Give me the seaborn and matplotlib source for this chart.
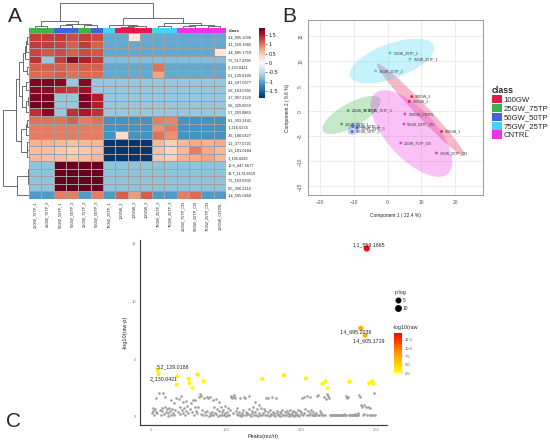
import numpy as np
import pandas as pd
import matplotlib
matplotlib.use("Agg")
import matplotlib.pyplot as plt
import seaborn as sns
from matplotlib.colors import ListedColormap, LinearSegmentedColormap, Normalize
from matplotlib.patches import Patch, Ellipse
from matplotlib.lines import Line2D

# ==========================================
# 1. DATA
# ==========================================
class_names = ["100GW", "25GW_75TP", "50GW_50TP", "75GW_25TP", "CNTRL"]
class_colors = ["#E6194B", "#3CB44B", "#4363D8", "#42D4F4", "#F032E6"]

# --- panel A: heatmap of top features ---
hm_rows = ["1.4_695.2036", "1.1_559.1665", "1.4_605.1719", "7.5_517.2398",
           "2_130.0421", "5.2_129.0188", "4.1_187.0377", "5.6_163.0391",
           "1.7_907.2128", "3.6_329.0659", "5.7_293.0869", "8.1_303.1441",
           "1_216.0274", "3.6_180.0427", "1.1_377.0725", "1.3_181.0184",
           "1_195.0299", "10.6_447.6677", "11.7_1174.8619", "7.5_163.0302",
           "6.5_390.2114", "1.4_565.0458"]
hm_cols = ["25GW_75TP_1", "25GW_75TP_2", "50GW_50TP_1", "50GW_50TP_2",
           "25GW_75TP_3", "50GW_50TP_3", "75GW_25TP_1", "100GW_1", "100GW_2",
           "100GW_3", "75GW_25TP_2", "75GW_25TP_3", "25GW_75TP_CN",
           "50GW_50TP_CN", "75GW_25TP_CN", "100GW_CNTRL"]
hm_col_class = [1, 1, 2, 2, 1, 2, 3, 0, 0, 0, 3, 3, 4, 4, 4, 4]
hm_values = [
    [1.3, 1.3, 1.3, 1.2, 1.3, 1.2, -.95, -.95, 0.2, -.95, -.95, -.95, -.95, -.95, -.95, -.95],
    [1.3, 1.3, 1.25, 1.1, 1.3, 1.1, -.95, -.95, -.95, -.95, -.95, -.95, -.95, -.95, -.95, -.95],
    [1.25, 1.15, 1.2, 1.1, 1.2, 1.15, -.95, -.95, -.95, -.95, -.95, -.95, -.95, -.95, -.95, 0.2],
    [1.35, -.7, 1.3, 1.65, 1.45, 1.3, -.8, -.8, -.8, -.8, -.8, -.8, -.8, -.8, -.8, -.8],
    [1.1, 1.1, 1.1, 1.05, 1.1, 1.1, -.95, -.95, -.95, -.95, 1.0, -.95, -.95, -.95, -.95, -.95],
    [1.05, 1.05, 1.1, 1.0, 1.05, 1.05, -.95, -.95, -.95, -.95, 0.75, -.95, -.95, -.95, -.95, -.95],
    [1.75, 1.75, 1.7, -.7, 1.7, -.7, -.7, -.7, -.7, -.7, -.7, -.7, -.7, -.7, -.7, -.7],
    [1.7, 1.65, 1.35, 1.3, 1.6, -.7, -.7, -.7, -.7, -.7, -.7, -.7, -.7, -.7, -.7, -.7],
    [1.75, 1.75, -.7, -.7, 1.75, 1.45, -.7, -.7, -.7, -.7, -.7, -.7, -.7, -.7, -.7, -.7],
    [1.8, 1.8, -.7, -.7, 1.75, 1.45, -.7, -.7, -.7, -.7, -.7, -.7, -.7, -.7, -.7, -.7],
    [1.35, 1.65, -.7, 1.35, 1.5, 1.35, -.7, -.7, -.7, -.7, -.7, -.7, -.7, -.7, -.7, -.7],
    [1.0, 1.0, 1.0, 1.1, 0.95, 1.0, -1.1, -1.1, -1.1, -1.1, 0.95, 0.9, -1.1, -1.1, -1.1, -1.1],
    [.95, .95, .95, .95, .95, .95, -1.1, -1.1, -1.1, -1.1, 0.85, 0.95, -1.1, -1.1, -1.1, -1.1],
    [.95, .95, .95, .95, .95, .95, -1.1, 0.35, -1.1, -1.1, 1.0, 0.85, -1.1, -1.1, -1.1, -1.1],
    [.65, .65, .6, .55, .6, .6, -1.8, -1.8, -1.8, -1.8, .6, .45, .6, .7, .65, .7],
    [.55, .55, .5, .45, .5, .55, -1.8, -1.8, -1.8, -1.8, .55, .4, .6, .95, .7, .6],
    [.6, .55, .55, .5, .55, .6, -1.8, -1.8, -1.8, -1.8, .5, .45, .65, .7, .75, .6],
    [-.75, -.75, 1.85, 1.85, 1.85, 1.85, -.75, -.75, -.75, -.75, -.75, -.75, -.75, -.75, -.75, -.75],
    [-.75, -.75, 1.85, 1.85, 1.85, 1.85, -.75, -.75, -.75, -.75, -.75, -.75, -.75, -.75, -.75, -.75],
    [-.75, -.75, 1.85, 1.85, 1.85, 1.85, -.75, -.75, -.75, -.75, -.75, -.75, -.75, -.75, -.75, -.75],
    [-.75, -.75, 1.85, 1.85, 1.85, 1.85, -.75, -.75, -.75, -.75, -.75, -.75, -.75, -.75, -.75, -.75],
    [-1.05, -1.05, .95, .95, -1.05, .95, -1.05, 1.1, .8, 1.1, -1.05, -1.05, .95, 1.05, -1.05, -1.05],
]
# linkage-like merges: (left, right, height); new cluster ids start at n_leaves
row_merges = [(17, 18, 0.3), (19, 20, 0.3), (22, 23, 0.6), (24, 21, 11),
              (0, 1, 1.5), (26, 2, 2.5), (27, 3, 4), (4, 5, 1.5), (28, 29, 6),
              (8, 9, 1), (31, 10, 3), (6, 7, 3), (33, 32, 6.5), (30, 34, 9),
              (11, 12, 1.5), (36, 13, 3), (14, 15, 1.5), (38, 16, 2),
              (37, 39, 7), (35, 40, 12), (41, 25, 24)]
col_merges = [(0, 1, 2), (2, 3, 2.5), (4, 5, 3), (17, 18, 4), (16, 19, 7),
              (7, 8, 1), (21, 9, 1.5), (6, 22, 3), (10, 11, 2), (12, 13, 1.5),
              (14, 15, 1.5), (25, 26, 2.5), (24, 27, 5), (23, 28, 10),
              (20, 29, 24)]

# --- panel B: PLS-DA scores ---
pca_labels = ["75GW_25TP_3", "75GW_25TP_1", "75GW_25TP_2", "100GW_3", "100GW_2",
              "100GW_1", "100GW_CNTRL", "50GW_50TP_CN", "25GW_75TP_CN",
              "75GW_25TP_CN", "25GW_75TP_2", "25GW_75TP_1", "25GW_75TP_3",
              "50GW_50TP_1", "50GW_50TP_2", "50GW_50TP_3"]
pca_x = [0.7, 6.6, -3.5, 7.1, 6.4, 15.9, 5.1, 4.8, 3.9, 14.4, -11.6, -13.5, -6.7,
         -10.2, -10.4, -9.0]
pca_y = [11.7, 10.5, 8.1, 3.0, 2.0, -4.0, -0.5, -2.5, -6.3, -8.3, 0.2, -2.5, 0.2,
         -3.0, -4.0, -3.3]
pca_class = ["75GW_25TP"] * 3 + ["100GW"] * 3 + ["CNTRL"] * 4 + \
            ["25GW_75TP"] * 3 + ["50GW_50TP"] * 3

# --- panel C: -log10(p) per peak ---
sig_idx = [9, 10, 34, 35, 50, 51, 55, 62, 70, 148, 177, 206, 228, 232, 235, 264,
           279, 285, 287, 290, 294, 296]
sig_p = [4.08, 3.7, 2.79, 3.5, 3.3, 2.93, 2.5, 3.65, 3.07, 3.28, 3.6, 3.33, 2.87,
         3.07, 2.47, 3.05, 7.67, 7.04, 14.57, 2.9, 3.07, 2.84]
sig_names = {287: "1.1_559.1665", 279: "1.4_695.2036", 285: "1.4_605.1719",
             9: "5.2_129.0188", 10: "2_130.0421"}
grey_p = [
    0.35, 0.8, 0.55, 0.2, 0.7, 0.45, 1.6, 0.3,
    2.1, 0.6, 0.15, 0.75, 0.5, 2.05, 0.25, 0.9, 1.7, 0.4, 0.65, 0.1, 0.3, 0.8,
    0.55, 0.2, 1.45, 0.7, 0.35, 1.2, 0.15, 0.6, 1.65,
    0.45, 1.55, 0.9, 0.25, 1.8, 0.6, 0.35, 1.25, 0.75, 0.15, 0.5, 1.4, 0.95, 0.3,
    0.65, 1.2, 0.4,
    1.45, 0.2, 0.85, 1.5, 0.55, 0.3,
    0.9, 1.7, 2.0, 0.25, 1.85, 0.6, 0.15,
    1.65, 0.4, 0.2, 1.7, 0.55, 1.6, 0.1, 0.35, 1.75, 0.2, 0.45, 1.5, 0.15, 0.9,
    0.3, 1.55, 0.25, 0.7, 0.1, 0.5, 1.3, 0.2, 0.85, 0.15, 0.4, 0.6, 0.2, 0.95,
    0.3, 0.1, 0.45, 0.75, 0.2, 0.15, 0.6, 1.7, 1.85, 1.6, 0.3, 1.75, 1.9, 1.65,
    0.55, 0.25, 0.8, 0.15, 0.4, 0.2, 1.65, 0.1, 0.35, 0.6, 0.2, 1.7, 1.6, 0.15,
    0.45, 0.3, 0.25, 0.7, 1.85, 0.2, 0.1, 0.55, 0.3, 0.9, 0.15, 0.4, 1.3, 0.2,
    0.65, 0.1, 1.0, 0.35, 0.2, 0.8, 0.15,
    0.3, 0.7, 0.15, 0.5, 1.65, 0.2, 0.4, 1.6, 0.1, 0.6, 0.25, 0.15, 1.7, 0.45,
    0.2, 0.35, 0.1, 1.65, 0.3, 0.55, 0.15, 0.2, 0.45, 0.1, 0.3, 0.6, 0.15, 0.2,
    0.4, 0.2, 0.15, 0.55, 0.3, 0.1, 0.25, 0.6, 0.2, 0.15, 0.35, 0.5, 0.1, 0.2,
    0.45, 0.3, 0.15, 0.6, 0.2, 0.1, 0.55, 0.25, 0.4, 1.6, 0.15, 0.3, 1.7, 0.65,
    1.85, 0.2, 0.55, 0.15, 1.7, 0.3, 0.6, 0.2, 0.15, 0.45, 0.2, 0.15, 0.3, 0.2,
    1.8, 1.9, 0.15, 0.2, 0.5, 0.3, 0.15,
    0.2, 1.75, 0.15,
    1.55, 2.0,
    1.8, 1.65, 0.2, 0.15, 0.2, 0.15, 0.2, 0.15, 0.2, 0.15, 0.2, 0.2, 0.15, 0.2,
    0.15, 0.2, 0.2, 0.15, 0.2, 0.15, 0.2, 0.25, 0.15, 0.2, 1.8, 1.65, 1.7, 0.2,
    0.15, 0.2, 0.15, 0.2, 0.2, 0.15, 0.25, 0.2, 0.15, 0.2, 0.3, 0.2, 1.9, 1.75,
    1.0, 0.9, 0.2, 1.05, 0.25,
    0.9,
    0.2, 0.85,
    0.8, 0.2, 0.15,
    0.2,
    2.1, 0.2,
]

# ==========================================
# 2. FIGURE SETUP
# ==========================================
sns.set_style("white")
plt.rcParams["font.family"] = ["Liberation Sans", "DejaVu Sans"]
W, H = 550, 440
fig = plt.figure(figsize=(W / 100, H / 100), dpi=100)


def px_axes(x0, y0, x1, y1):
    # pixel box (from top-left) -> figure axes
    return fig.add_axes([x0 / W, 1 - y1 / H, (x1 - x0) / W, (y1 - y0) / H])


def dendro_segments(merges, n):
    pos = {i: i + 0.5 for i in range(n)}
    hgt = {i: 0.0 for i in range(n)}
    segs = []
    for k, (a, b, h) in enumerate(merges):
        segs.append(([pos[a], pos[a], pos[b], pos[b]], [hgt[a], h, h, hgt[b]]))
        pos[n + k] = (pos[a] + pos[b]) / 2
        hgt[n + k] = h
    return segs


# ==========================================
# 3. PANEL A - HEATMAP
# ==========================================
df_hm = pd.DataFrame(hm_values, index=hm_rows, columns=hm_cols)
ax_hm = px_axes(29, 33, 226, 199)
cax = px_axes(259, 28, 265, 98)
sns.heatmap(df_hm, ax=ax_hm, cmap="RdBu_r", vmin=-1.85, vmax=1.85,
            linewidths=0.4, linecolor="#a0a0a0", cbar_ax=cax,
            xticklabels=True, yticklabels=True)
ax_hm.yaxis.tick_right()
ax_hm.tick_params(axis="both", length=0, pad=1.5)
plt.setp(ax_hm.get_yticklabels(), fontsize=2.8, rotation=0)
plt.setp(ax_hm.get_xticklabels(), fontsize=2.8, rotation=90)
ax_hm.set_xlabel("")
ax_hm.set_ylabel("")
cax.set_yticks([1.5, 1, 0.5, 0, -0.5, -1, -1.5])
cax.set_yticklabels(["1.5", "1", "0.5", "0", "-0.5", "-1", "-1.5"])
cax.tick_params(labelsize=4, length=1.5, width=0.4, pad=1)

ax_cls = px_axes(29, 28, 226, 33)
sns.heatmap(np.array([hm_col_class]), ax=ax_cls, cmap=ListedColormap(class_colors),
            vmin=-0.5, vmax=4.5, cbar=False, xticklabels=False, yticklabels=False)
ax_cls.text(16.25, 0.5, "class", fontsize=3.2, fontweight="bold", va="center")

ax_rd = px_axes(2, 33, 29, 199)
for xs, ys in dendro_segments(row_merges, len(hm_rows)):
    ax_rd.plot(ys, xs, color="#555555", lw=0.6)
ax_rd.set_ylim(len(hm_rows), 0)
ax_rd.set_xlim(25, 0)
ax_rd.axis("off")

ax_cd = px_axes(29, 2, 226, 28)
for xs, ys in dendro_segments(col_merges, len(hm_cols)):
    ax_cd.plot(xs, ys, color="#555555", lw=0.6)
ax_cd.set_xlim(0, len(hm_cols))
ax_cd.set_ylim(0, 25)
ax_cd.axis("off")

# ==========================================
# 4. PANEL B - SCORES PLOT
# ==========================================
df_pca = pd.DataFrame({"x": pca_x, "y": pca_y, "cls": pca_class, "lab": pca_labels})
pal = dict(zip(class_names, class_colors))
ax_b = px_axes(308, 20, 483, 195)
for name in class_names:
    sub = df_pca[df_pca["cls"] == name]
    pts = sub[["x", "y"]].to_numpy()
    cov = np.cov(pts.T)
    vals, vecs = np.linalg.eigh(cov)
    t = np.sqrt(5.991)
    ang = np.degrees(np.arctan2(vecs[1, 1], vecs[0, 1]))
    ax_b.add_patch(Ellipse(pts.mean(axis=0), 2 * t * np.sqrt(vals[1]),
                           2 * t * np.sqrt(vals[0]), angle=ang,
                           facecolor=pal[name], alpha=0.3, lw=0, zorder=1))
sns.scatterplot(data=df_pca, x="x", y="y", hue="cls", palette=pal, s=4,
                linewidth=0, ax=ax_b, legend=False, zorder=3)
for _, r in df_pca.iterrows():
    ax_b.annotate(r["lab"], (r["x"], r["y"]), xytext=(2.5, 0), textcoords="offset points",
                  fontsize=2.6, va="center", color="#333333")
ax_b.set_xlim(-23.4, 28.1)
ax_b.set_ylim(-16.7, 18.3)
ax_b.set_xticks([-20, -10, 0, 10, 20])
ax_b.set_yticks([-15, -10, -5, 0, 5, 10, 15])
ax_b.grid(True, color="#e6e6e6", lw=0.5)
ax_b.set_axisbelow(True)
for sp in ax_b.spines.values():
    sp.set_color("#999999")
    sp.set_linewidth(0.7)
ax_b.tick_params(labelsize=3.5, length=1.5, width=0.4, colors="#555555", pad=2)
plt.setp(ax_b.get_yticklabels(), rotation=90, va="center")
ax_b.set_xlabel("Component 1 ( 22.4 %)", fontsize=3.5, labelpad=6)
ax_b.set_ylabel("Component 2 ( 9.6 %)", fontsize=3.5, labelpad=6)

handles = [Patch(facecolor=c, edgecolor="none", label=n) for n, c in zip(class_names, class_colors)]
leg = fig.legend(handles=handles, title="class", loc="upper left",
                 bbox_to_anchor=(492 / W, 1 - 86 / H), frameon=False, fontsize=5.6,
                 title_fontsize=6.3, handlelength=1.3, handleheight=1.3,
                 labelspacing=0, handletextpad=0.2, borderaxespad=0, borderpad=0)
leg.get_title().set_fontweight("bold")
leg._legend_box.align = "left"

# ==========================================
# 5. PANEL C - MANHATTAN-LIKE PLOT
# ==========================================
n_peaks = len(grey_p) + len(sig_idx)
grey_idx = [i for i in range(1, n_peaks + 1) if i not in set(sig_idx)]
df_grey = pd.DataFrame({"idx": grey_idx, "p": grey_p})
df_sig = pd.DataFrame({"idx": sig_idx, "p": sig_p}).sort_values("p")

ax_c = px_axes(140, 240, 387, 425)
p_cmap = LinearSegmentedColormap.from_list("yr", ["#FFFF00", "#FF9900", "#FF0000"])
p_norm = (2.5, 14.6)
size_rng = (8, 20)
sns.scatterplot(data=df_grey, x="idx", y="p", color="#9e9e9e", s=3.5, linewidth=0,
                ax=ax_c, legend=False)
sns.scatterplot(data=df_sig, x="idx", y="p", hue="p", palette=p_cmap, hue_norm=p_norm,
                size="p", sizes=size_rng, size_norm=p_norm, linewidth=0, ax=ax_c,
                legend=False)
label_off = {287: (1.5, 2.8), 279: (-3.6, -2.9), 285: (2.9, -3.6), 9: (10.8, 2.2),
             10: (3.6, -3.6)}
for i, name in sig_names.items():
    pv = sig_p[sig_idx.index(i)]
    ax_c.annotate(name, (i, pv), xytext=label_off[i], textcoords="offset points",
                  fontsize=3.8, ha="center", va="center", color="#222222", zorder=1)
ax_c.set_xlim(-14.7, 314)
ax_c.set_ylim(-0.7, 15.3)
ax_c.set_xticks([0, 100, 200, 300])
ax_c.set_yticks([0, 5, 10, 15])
sns.despine(ax=ax_c)
for sp in ["left", "bottom"]:
    ax_c.spines[sp].set_color("#444444")
    ax_c.spines[sp].set_linewidth(0.9)
ax_c.tick_params(labelsize=3, length=1.5, width=0.4, colors="#777777", pad=1)
ax_c.set_xlabel("Peaks(mz/rt)", fontsize=4, labelpad=1)
ax_c.set_ylabel("-log10(raw-p)", fontsize=4, labelpad=3)

# size legend
def size_of(v):
    return size_rng[0] + (v - p_norm[0]) / (p_norm[1] - p_norm[0]) * (size_rng[1] - size_rng[0])

sz_handles = [Line2D([], [], marker="o", ls="", color="black", markersize=np.sqrt(size_of(v)),
                     label=str(v)) for v in [5, 10]]
leg2 = fig.legend(handles=sz_handles, title="p.log", loc="upper left",
                  bbox_to_anchor=(395 / W, 1 - 290 / H), frameon=False, fontsize=3.5,
                  title_fontsize=3.8, handletextpad=0.3, labelspacing=0.6,
                  borderaxespad=0, borderpad=0, handlelength=1.2)
leg2._legend_box.align = "left"

cax2 = px_axes(394, 333, 402, 373)
sm = plt.cm.ScalarMappable(norm=Normalize(*p_norm), cmap=p_cmap)
cb2 = fig.colorbar(sm, cax=cax2)
cb2.set_ticks([2.5, 5.0, 7.5, 10.0, 12.5])
cb2.set_ticklabels(["2.5", "5.0", "7.5", "10.0", "12.5"])
cb2.outline.set_visible(False)
cax2.tick_params(labelsize=3, length=1, width=0.3, colors="#555555", pad=1)
fig.text(393 / W, 1 - 327 / H, "-log10(raw", fontsize=3.8, va="center")

# ==========================================
# 6. PANEL LETTERS
# ==========================================
fig.text(8 / W, 1 - 16 / H, "A", fontsize=15, va="center")
fig.text(282 / W, 1 - 16 / H, "B", fontsize=15, va="center")
fig.text(6 / W, 1 - 421 / H, "C", fontsize=15, va="center")

fig.savefig("out.png", dpi=100)
